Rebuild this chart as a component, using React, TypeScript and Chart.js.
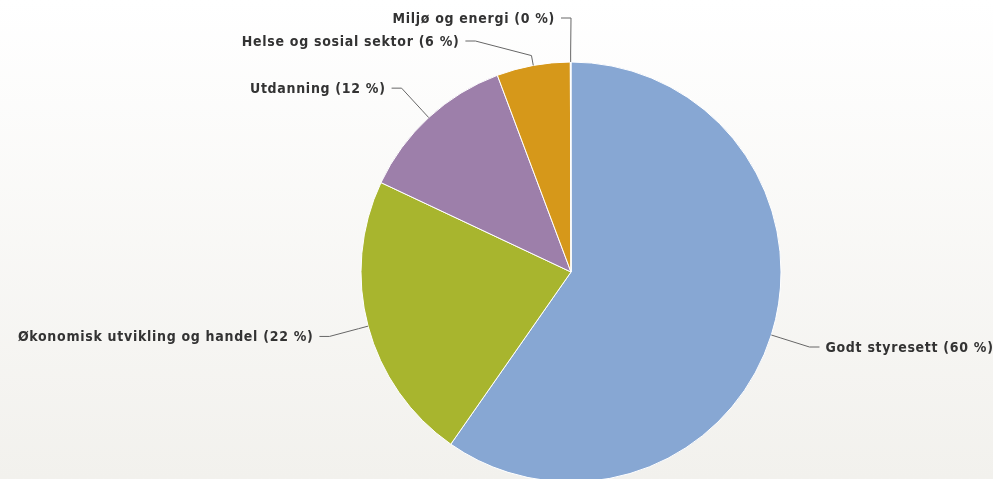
import React, { useEffect, useRef } from "react";
import { Chart, registerables } from "chart.js";

Chart.register(...registerables);

const categories = [
  "Godt styresett",
  "Økonomisk utvikling og handel",
  "Utdanning",
  "Helse og sosial sektor",
  "Miljø og energi",
];
const values = [59.7, 22.3, 12.3, 5.65, 0.05];
const colors = ["#87A7D3", "#A8B52E", "#9D7FAA", "#D6981A", "#C9D6E8"];

const LABEL_FONT = 'bold 14px "DejaVu Sans Condensed"';

const labelPlugin = {
  id: "pieLabels",
  afterDatasetsDraw(chart: any) {
    const ctx = chart.ctx as CanvasRenderingContext2D;
    const meta = chart.getDatasetMeta(0);
    const total = values.reduce((a, b) => a + b, 0);
    const gap = 23;
    const minY = 18;
    const items = meta.data.map((arc: any, i: number) => {
      const p = arc.getProps(["x", "y", "startAngle", "endAngle", "outerRadius"], true);
      const mid = (p.startAngle + p.endAngle) / 2;
      const cos = Math.cos(mid);
      const sin = Math.sin(mid);
      const R = p.outerRadius + 40;
      return {
        i,
        left: cos < 0,
        cos,
        sin,
        cx: p.x,
        cy: p.y,
        r: p.outerRadius,
        R,
        y: p.y + R * sin,
      };
    });
    for (const side of [true, false]) {
      const list = items.filter((it: any) => it.left === side).sort((a: any, b: any) => a.y - b.y);
      for (let iter = 0; iter < 60; iter++) {
        for (let k = 1; k < list.length; k++) {
          const diff = list[k].y - list[k - 1].y;
          if (diff < gap) {
            const d = (gap - diff) / 2;
            list[k - 1].y -= d;
            list[k].y += d;
          }
        }
      }
      if (list.length && list[0].y < minY) list[0].y = minY;
      for (let k = 1; k < list.length; k++) {
        list[k].y = Math.max(list[k].y, list[k - 1].y + gap);
      }
    }
    ctx.save();
    ctx.font = LABEL_FONT;
    (ctx as any).letterSpacing = "0.7px";
    ctx.textBaseline = "middle";
    for (const it of items) {
      const dy = it.y - it.cy;
      const dx = Math.sqrt(Math.max(it.R * it.R - dy * dy, 0));
      const sgn = it.left ? -1 : 1;
      const x = it.cx + sgn * dx;
      ctx.beginPath();
      ctx.strokeStyle = "#666666";
      ctx.lineWidth = 1;
      ctx.moveTo(x + sgn * 10, it.y);
      ctx.lineTo(x, it.y);
      ctx.lineTo(it.cx + it.cos * (it.r + 10), it.cy + it.sin * (it.r + 10));
      ctx.lineTo(it.cx + it.cos * it.r, it.cy + it.sin * it.r);
      ctx.stroke();
      const pct = Math.round((values[it.i] / total) * 100);
      const text = `${categories[it.i]} (${pct} %)`;
      ctx.fillStyle = "#333333";
      ctx.textAlign = it.left ? "right" : "left";
      ctx.fillText(text, x + sgn * 16, it.y + 1);
    }
    ctx.restore();
  },
};

export default function App() {
  const ref = useRef<HTMLCanvasElement | null>(null);
  useEffect(() => {
    if (!ref.current) return;
    const chart = new Chart(ref.current, {
      type: "pie",
      data: {
        labels: categories,
        datasets: [
          {
            data: values,
            backgroundColor: colors,
            borderColor: "#ffffff",
            borderWidth: 1,
            clip: false as any,
          },
        ],
      },
      options: {
        responsive: false,
        animation: false,
        radius: 210,
        layout: { padding: { left: 149, right: 0, top: 65, bottom: 0 } },
        plugins: {
          legend: { display: false },
          tooltip: { enabled: false },
        },
      } as any,
      plugins: [labelPlugin],
    });
    return () => chart.destroy();
  }, []);
  return (
    <div
      style={{
        position: "fixed",
        left: 0,
        top: 0,
        width: 993,
        height: 479,
        overflow: "hidden",
        background: "linear-gradient(to bottom, #ffffff 0%, #f2f1ed 100%)",
      }}
    >
      <canvas ref={ref} width={993} height={479} style={{ display: "block" }} />
    </div>
  );
}
